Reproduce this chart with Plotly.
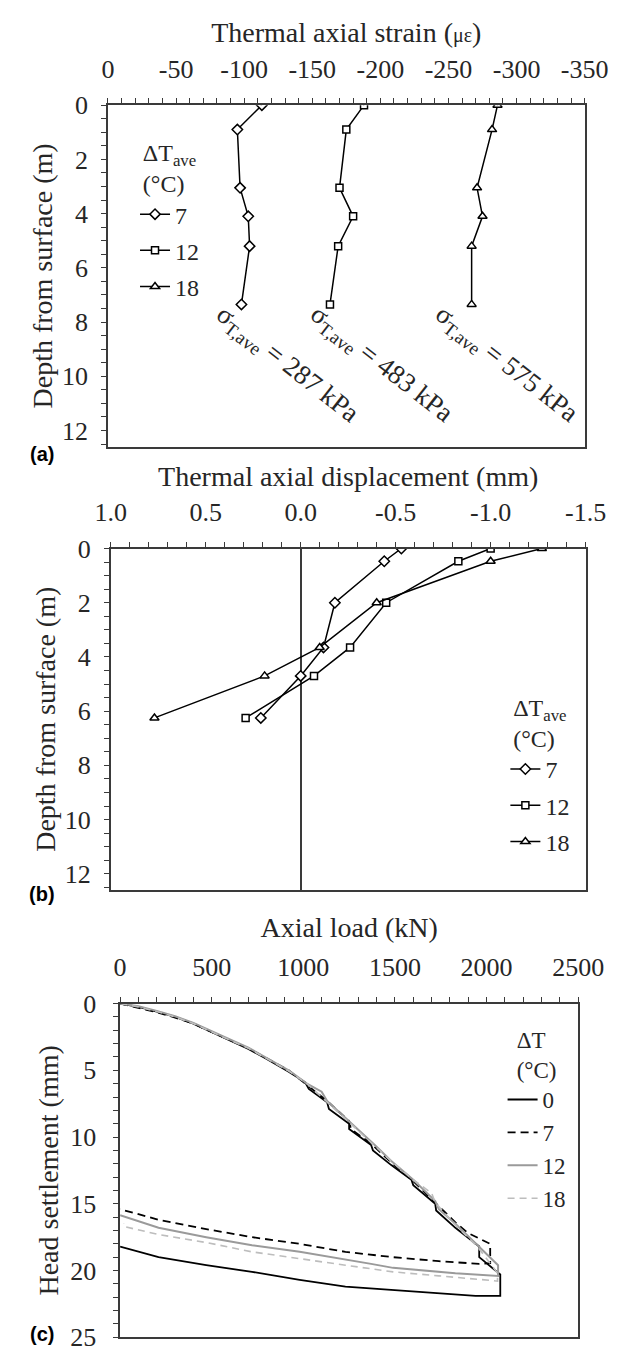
import plotly.graph_objects as go

# ---------------- data ----------------
# (a) thermal axial strain vs depth
depth_a = [0, 0.9, 3.05, 4.1, 5.2, 7.35]
strain_7 = [-113, -95, -97, -103, -104, -98]
strain_12 = [-188, -175, -170, -180, -169, -163]
strain_18 = [-286, -282, -271, -275, -267, -267]
stress_labels = ["287", "483", "575"]

# (b) thermal axial displacement vs depth
depth_b = [0, 0.47, 2.0, 3.65, 4.7, 6.25]
disp_7 = [-0.53, -0.44, -0.18, -0.12, 0.0, 0.21]
disp_12 = [-1.0, -0.83, -0.45, -0.26, -0.07, 0.29]
disp_18 = [-1.27, -1.0, -0.40, -0.10, 0.19, 0.77]

# (c) axial load vs head settlement
load_0 = [0, 100, 200, 300, 400, 470, 560, 700, 800, 920, 1010, 1030, 1130, 1140, 1250, 1250,
          1370, 1380, 1480, 1590, 1600, 1720, 1725, 1830, 1960, 1960, 2075, 2075,
          1940, 1650, 1230, 980, 720, 470, 210, 0]
sett_0 = [0, 0.25, 0.6, 1.0, 1.5, 1.95, 2.5, 3.4, 4.15, 5.1, 5.9, 6.4, 7.4, 7.9, 9.0, 9.4,
          10.6, 11.0, 12.1, 13.2, 13.6, 15.0, 15.5, 16.8, 18.2, 19.0, 20.3, 21.9,
          21.9, 21.6, 21.2, 20.7, 20.1, 19.6, 19.0, 18.2]
load_7 = [0, 100, 200, 300, 400, 470, 560, 700, 800, 920, 1020, 1130, 1250, 1260, 1370, 1480,
          1600, 1720, 1830, 1900, 2020, 2020,
          1960, 1740, 1490, 1230, 980, 720, 470, 210, 0]
sett_7 = [0, 0.3, 0.65, 1.05, 1.5, 1.95, 2.5, 3.35, 4.1, 5.0, 6.1, 7.3, 8.8, 9.4, 10.5, 11.9,
          13.3, 14.9, 16.4, 17.2, 18.0, 19.45,
          19.5, 19.3, 19.0, 18.6, 18.0, 17.5, 16.9, 16.2, 15.4]
load_12 = [0, 100, 200, 300, 400, 470, 560, 700, 800, 920, 1020, 1100, 1130, 1250, 1370, 1390,
           1480, 1600, 1720, 1740, 1830, 1950, 2063, 2063,
           1830, 1490, 1370, 980, 720, 470, 210, 0]
sett_12 = [0, 0.2, 0.55, 0.95, 1.45, 1.9, 2.45, 3.3, 4.05, 5.0, 6.0, 6.6, 7.3, 8.8, 10.3, 10.6,
           11.8, 13.2, 14.8, 15.4, 16.5, 18.1, 19.6, 20.4,
           20.2, 19.8, 19.5, 18.6, 18.1, 17.5, 16.8, 15.85]
load_18 = [0, 100, 200, 300, 400, 470, 560, 700, 800, 920, 1020, 1130, 1250, 1370, 1480, 1600,
           1700, 1720, 1830, 1950, 2060, 2060,
           2030, 1740, 1490, 1230, 980, 720, 470, 210, 20, 20]
sett_18 = [0, 0.25, 0.6, 1.0, 1.5, 1.95, 2.5, 3.35, 4.1, 5.05, 6.0, 7.4, 8.9, 10.4, 11.8, 13.2,
           14.2, 14.9, 16.6, 18.2, 20.2, 20.8,
           20.75, 20.4, 20.1, 19.6, 19.1, 18.6, 17.9, 17.3, 16.7, 16.5]

ticks_a = [0, -50, -100, -150, -200, -250, -300, -350]
ticklabels_a = ["0", "-50", "-100", "-150", "-200", "-250", "-300", "-350"]
ticks_b = [1.0, 0.5, 0.0, -0.5, -1.0, -1.5]
ticklabels_b = ["1.0", "0.5", "0.0", "-0.5", "-1.0", "-1.5"]

# ---------------- style ----------------
SERIF = "Liberation Serif, Times New Roman, serif"
TXT = "#262626"
AX = "#3a3a3a"
W, H = 626, 1357
TICK_SIZE = 26
TITLE_SIZE = 28

fig = go.Figure()

marker_specs = [("7", "diamond", 8), ("12", "square", 7), ("18", "triangle-up", 8)]

for (name, sym, ms), xs in zip(marker_specs, [strain_7, strain_12, strain_18]):
    fig.add_trace(go.Scatter(
        x=xs, y=depth_a, mode="lines+markers", name=name, xaxis="x", yaxis="y",
        line=dict(color="black", width=1.5),
        marker=dict(symbol=sym, size=ms, color="white", line=dict(color="black", width=1.5)),
        legend="legend", legendgroup="a" + name))

for (name, sym, ms), xs in zip(marker_specs, [disp_7, disp_12, disp_18]):
    fig.add_trace(go.Scatter(
        x=xs, y=depth_b, mode="lines+markers", name=name, xaxis="x2", yaxis="y2",
        line=dict(color="black", width=1.5),
        marker=dict(symbol=sym, size=ms, color="white", line=dict(color="black", width=1.5)),
        legend="legend2", legendgroup="b" + name))

c_specs = [("0", load_0, sett_0, "black", "solid", 1.8),
           ("7", load_7, sett_7, "black", "8px,5px", 1.8),
           ("12", load_12, sett_12, "#9a9a9a", "solid", 2.0),
           ("18", load_18, sett_18, "#bdbdbd", "7px,5px", 1.6)]
for name, xs, ys, col, dash, lw in c_specs:
    fig.add_trace(go.Scatter(
        x=xs, y=ys, mode="lines", name=name, xaxis="x3", yaxis="y3",
        line=dict(color=col, width=lw, dash=dash), legend="legend3"))


def ax_common(**kw):
    d = dict(showline=True, linecolor=AX, linewidth=1.5, mirror=True,
             ticks="outside", ticklen=5, tickwidth=1, tickcolor=AX,
             showgrid=False, zeroline=False,
             tickfont=dict(family=SERIF, size=TICK_SIZE, color=TXT))
    d.update(kw)
    return d


def px_x(x):
    return x / W


def px_y(y):
    return 1 - y / H


title_font = dict(family=SERIF, size=TITLE_SIZE, color=TXT)
leg_font = dict(family=SERIF, size=24, color=TXT)

fig.update_layout(
    width=W, height=H, margin=dict(l=0, r=0, t=0, b=0),
    paper_bgcolor="white", plot_bgcolor="white",
    font=dict(family=SERIF, color=TXT),
    xaxis=ax_common(domain=[px_x(90), px_x(601)], anchor="y", side="top", range=[0, -350],
                    tickmode="array", tickvals=ticks_a, ticktext=ticklabels_a,
                    ticklabelstandoff=10,
                    minor=dict(ticks="outside", ticklen=5, tickcolor=AX, dtick=10, tick0=0, showgrid=False),
                    title=dict(text="Thermal axial strain (<span style='font-size:20px'>με</span>)",
                               font=title_font, standoff=4)),
    yaxis=ax_common(domain=[px_y(434), px_y(85)], anchor="x", range=[12.6, 0], dtick=2,
                    ticklabelstandoff=8,
                    minor=dict(ticks="outside", ticklen=5, tickcolor=AX, dtick=0.5, showgrid=False),
                    title=dict(text="Depth from surface (m)", font=title_font, standoff=1)),
    xaxis2=ax_common(domain=[px_x(93), px_x(602)], anchor="y2", side="top", range=[1.0, -1.5],
                     tickmode="array", tickvals=ticks_b, ticktext=ticklabels_b,
                     ticklabelstandoff=10,
                     zeroline=True, zerolinecolor=AX, zerolinewidth=1.5,
                     minor=dict(ticks="outside", ticklen=5, tickcolor=AX, dtick=0.1, tick0=0, showgrid=False),
                     title=dict(text="Thermal axial displacement (mm)", font=title_font, standoff=4)),
    yaxis2=ax_common(domain=[px_y(887), px_y(538)], anchor="x2", range=[12.6, 0], dtick=2,
                     ticklabelstandoff=8,
                     minor=dict(ticks="outside", ticklen=5, tickcolor=AX, dtick=0.5, showgrid=False),
                     title=dict(text="Depth from surface (m)", font=title_font, standoff=1)),
    xaxis3=ax_common(domain=[px_x(103), px_x(594)], anchor="y3", side="top", range=[0, 2500],
                     dtick=500, ticklabelstandoff=10,
                     minor=dict(ticks="outside", ticklen=5, tickcolor=AX, dtick=100, showgrid=False),
                     title=dict(text="Axial load (kN)", font=title_font, standoff=8)),
    yaxis3=ax_common(domain=[px_y(1344), px_y(1003)], anchor="x3", range=[25, 0], dtick=5,
                     ticklabelstandoff=12, ticklabeloverflow="allow",
                     minor=dict(ticks="outside", ticklen=5, tickcolor=AX, dtick=1, showgrid=False),
                     title=dict(text="Head settlement (mm)", font=title_font, standoff=3)),
    legend=dict(x=px_x(119), y=px_y(110), xanchor="left", yanchor="top",
                bgcolor="rgba(0,0,0,0)", tracegroupgap=2, font=leg_font,
                title=dict(text="ΔT<sub>ave</sub><br>(°C)", side="top center", font=leg_font)),
    legend2=dict(x=px_x(516), y=px_y(677), xanchor="left", yanchor="top",
                 bgcolor="rgba(0,0,0,0)", tracegroupgap=2, font=leg_font,
                 title=dict(text="ΔT<sub>ave</sub><br>(°C)", side="top center", font=leg_font)),
    legend3=dict(x=px_x(513), y=px_y(1018), xanchor="left", yanchor="top",
                 bgcolor="rgba(0,0,0,0)",
                 font=dict(family=SERIF, size=23, color=TXT),
                 title=dict(text="ΔT<br>(°C)", side="top center",
                            font=dict(family=SERIF, size=23, color=TXT))),
)

# rotated stress annotations
for lab, cx in zip(stress_labels, [282, 383, 517]):
    fig.add_annotation(
        xref="paper", yref="paper", x=px_x(cx), y=px_y(350), xanchor="center", yanchor="middle",
        text="σ<sub>T,ave</sub> = " + lab + " kPa", textangle=38, showarrow=False,
        font=dict(family=SERIF, size=27, color=TXT))

# panel letters
for lab, yy in [("(a)", 441), ("(b)", 891), ("(c)", 1341)]:
    fig.add_annotation(
        xref="paper", yref="paper", x=px_x(19), y=px_y(yy), xanchor="center", yanchor="middle",
        text="<b>" + lab + "</b>", showarrow=False,
        font=dict(family="Liberation Sans, Arial, sans-serif", size=20, color="black"))

fig.write_html("out.html")
